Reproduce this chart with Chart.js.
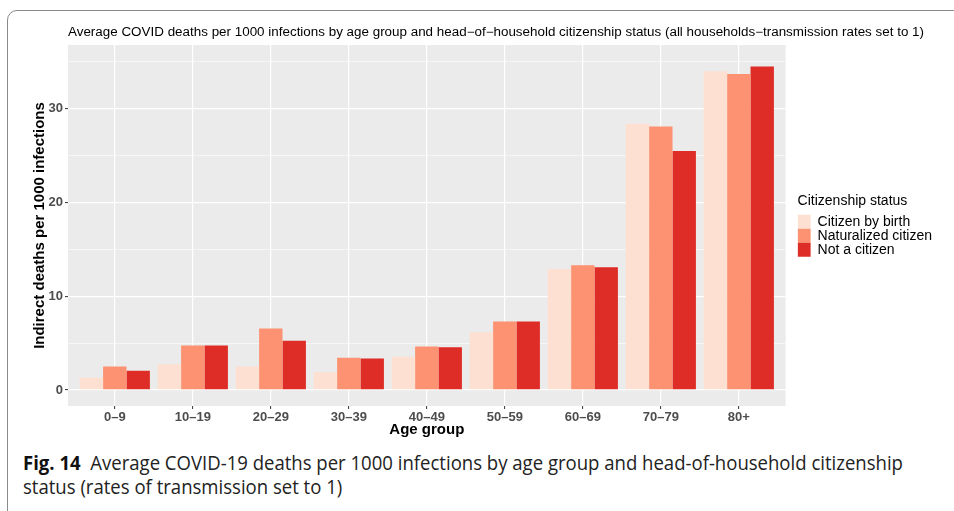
<!DOCTYPE html>
<html>
<head>
<meta charset="utf-8">
<script src="https://cdn.jsdelivr.net/npm/chart.js@4.4.1/dist/chart.umd.min.js"></script>
<style>
    body { margin: 0; background: #fff; width: 954px; height: 511px; overflow: hidden; position: relative; }
    #frame { position: absolute; left: 7px; top: 10px; width: 980px; height: 540px; border: 1px solid #8a8a8a; border-radius: 10px; }
    #chartBox { position: absolute; left: 0; top: 0; width: 954px; height: 445px; }
    .caption { position: absolute; left: 23px; font-family: "Open Sans", sans-serif; font-size: 20px; line-height: 24px; color: #222; white-space: nowrap; transform-origin: left center; }
    .caption b { color: #111; }
</style>
</head>
<body>
<div id="frame"></div>
<div id="chartBox"><canvas id="deathsChart" width="954" height="445"></canvas></div>
<div class="caption" id="cap1" style="top:451px"><b>Fig. 14</b>&nbsp; Average COVID-19 deaths per 1000 infections by age group and head-of-household citizenship</div>
<div class="caption" id="cap2" style="top:475px">status (rates of transmission set to 1)</div>

<script>
// Values
const ageGroups = ['0–9', '10–19', '20–29', '30–39', '40–49', '50–59', '60–69', '70–79', '80+'];
const citizenByBirth = [1.3, 2.75, 2.5, 1.9, 3.55, 6.15, 12.9, 28.4, 34.0];
const naturalizedCitizen = [2.5, 4.75, 6.55, 3.45, 4.65, 7.3, 13.3, 28.1, 33.7];
const notACitizen = [2.05, 4.75, 5.25, 3.35, 4.55, 7.3, 13.1, 25.5, 34.5];
const yTicks = [0, 10, 20, 30];

const chartTitle = 'Average COVID deaths per 1000 infections by age group and head\u2212of\u2212household citizenship status (all households\u2212transmission rates set to 1)';

// grey ggplot panel + title above it
const panelPlugin = {
    id: 'panel',
    beforeDraw(chart) {
        const {ctx, chartArea} = chart;
        ctx.save();
        ctx.fillStyle = '#EBEBEB';
        ctx.fillRect(chartArea.left, chartArea.top, chartArea.right - chartArea.left, chartArea.bottom - chartArea.top);
        ctx.restore();
    },
    afterDraw(chart) {
        const {ctx, chartArea} = chart;
        ctx.save();
        ctx.font = '12px "Liberation Sans", Arial, sans-serif';
        ctx.fillStyle = '#000';
        ctx.textBaseline = 'middle';
        const w = ctx.measureText(chartTitle).width;
        ctx.translate(chartArea.left, 33);
        ctx.scale(856 / w, 1);
        ctx.fillText(chartTitle, 0, 0);
        ctx.restore();
    }
};

function toPoints(values) {
    return values.map((v, i) => ({ x: i, y: v }));
}

const tickFont = { family: '"Liberation Sans", Arial, sans-serif', size: 13, weight: 'bold' };
const titleFont = { family: '"Liberation Sans", Arial, sans-serif', size: 15, weight: 'bold' };

new Chart(document.getElementById('deathsChart'), {
    type: 'bar',
    data: {
        datasets: [
            { label: 'Citizen by birth', data: toPoints(citizenByBirth), backgroundColor: '#FEE0D2' },
            { label: 'Naturalized citizen', data: toPoints(naturalizedCitizen), backgroundColor: '#FC9272' },
            { label: 'Not a citizen', data: toPoints(notACitizen), backgroundColor: '#DE2D26' }
        ]
    },
    options: {
        responsive: false,
        animation: false,
        categoryPercentage: 0.9,
        barPercentage: 1.0,
        layout: { padding: { left: 28, top: 45, right: 12, bottom: 0 } },
        scales: {
            x: {
                type: 'linear',
                min: -0.6,
                max: 8.6,
                offset: false,
                afterBuildTicks: axis => { axis.ticks = ageGroups.map((_, i) => ({ value: i })); },
                afterFit: scale => { scale.height = 39; },
                border: { display: false },
                grid: { offset: false, color: '#FFFFFF', lineWidth: 1.2, tickColor: '#333333', tickLength: 3, tickWidth: 1 },
                ticks: {
                    autoSkip: false,
                    maxRotation: 0,
                    padding: 1,
                    color: '#4D4D4D',
                    font: tickFont,
                    callback: value => ageGroups[value]
                },
                title: { display: true, text: 'Age group', color: '#000', font: titleFont, padding: { top: 0, bottom: 6 } }
            },
            y: {
                min: -1.71,
                max: 36.8,
                afterFit: scale => { scale.width = 40; },
                border: { display: false },
                grid: {
                    color: '#FFFFFF',
                    lineWidth: ctx => (ctx.tick && ctx.tick.value % 10 === 0 ? 1.2 : 0.6),
                    tickColor: ctx => (ctx.tick && yTicks.includes(ctx.tick.value) ? '#333333' : 'rgba(0,0,0,0)'),
                    tickLength: 3,
                    tickWidth: 1
                },
                ticks: {
                    stepSize: 5,
                    includeBounds: false,
                    padding: 2,
                    color: '#4D4D4D',
                    font: tickFont,
                    callback: value => (yTicks.includes(value) ? value : '')
                },
                title: { display: true, text: 'Indirect deaths per 1000 infections', color: '#000', font: titleFont, padding: { top: 3, bottom: 0 } }
            },
            gap: {
                type: 'linear',
                position: 'right',
                afterFit: scale => { scale.width = 12; },
                border: { display: false },
                grid: { display: false, drawTicks: false },
                ticks: { display: false }
            }
        },
        plugins: {
            legend: {
                position: 'right',
                align: 'center',
                fullSize: false,
                title: {
                    display: true,
                    text: 'Citizenship status',
                    position: 'start',
                    color: '#000',
                    font: { family: '"Liberation Sans", Arial, sans-serif', size: 14 },
                    padding: { top: 0, bottom: 3.5 }
                },
                labels: {
                    boxWidth: 13,
                    boxHeight: 14,
                    padding: 0,
                    color: '#000',
                    font: { family: '"Liberation Sans", Arial, sans-serif', size: 14 }
                }
            },
            tooltip: { enabled: false }
        }
    },
    plugins: [panelPlugin]
});

// squeeze the caption to the width it has in the figure
const cap1 = document.getElementById('cap1');
const cap2 = document.getElementById('cap2');
const squeeze = 880 / cap1.scrollWidth;
cap1.style.transform = 'scaleX(' + squeeze + ')';
cap2.style.transform = 'scaleX(' + squeeze + ')';
</script>
</body>
</html>
